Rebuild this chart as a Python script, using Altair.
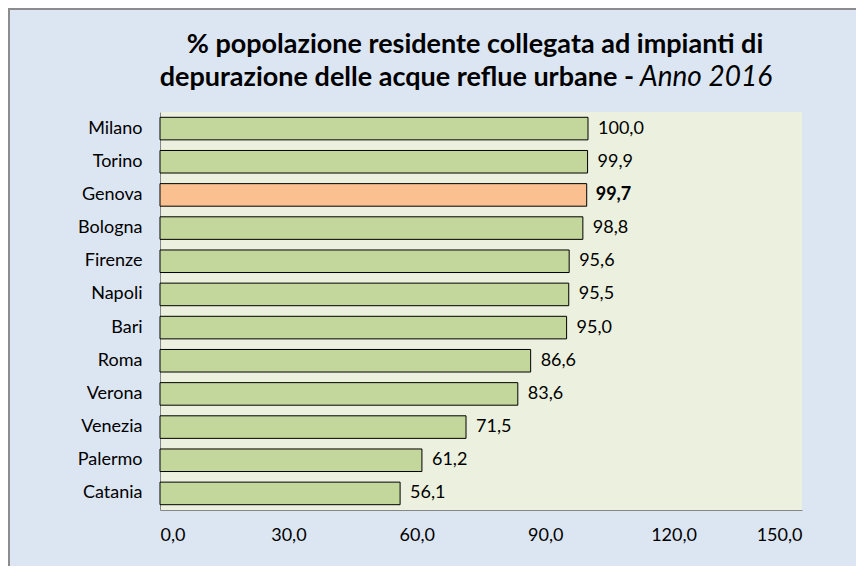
import altair as alt
import pandas as pd

cities = ["Milano", "Torino", "Genova", "Bologna", "Firenze", "Napoli",
          "Bari", "Roma", "Verona", "Venezia", "Palermo", "Catania"]
values = [100.0, 99.9, 99.7, 98.8, 95.6, 95.5, 95.0, 86.6, 83.6, 71.5, 61.2, 56.1]
highlight = "Genova"
x_ticks = [0, 30, 60, 90, 120, 150]
title_line1 = "% popolazione residente collegata ad impianti di"
title_line2_bold = "depurazione delle acque reflue urbane -"
title_line2_italic = "Anno 2016"

df = pd.DataFrame({"city": cities, "value": values})
df["label"] = [f"{v:.1f}".replace(".", ",") for v in values]

W, H = 642, 398
FONT = "Lato"
GREEN = "#C3D69B"
ORANGE = "#FAC090"
LBL = 18

y = alt.Y("city:N", sort=cities,
          scale=alt.Scale(paddingInner=0.32, paddingOuter=0.16),
          axis=alt.Axis(title=None, labelFont=FONT, labelFontSize=LBL, labelColor="black",
                        labelPadding=18, ticks=False, domainColor="#868686", domainWidth=1))
x = alt.X("value:Q", scale=alt.Scale(domain=[0, 150], nice=False),
          axis=alt.Axis(title=None, values=x_ticks,
                        labelExpr="replace(format(datum.value, '.1f'), '.', ',')",
                        labelFont=FONT, labelFontSize=LBL, labelColor="black",
                        labelPadding=16, ticks=False, grid=False,
                        domainColor="#868686", domainWidth=1))

base = alt.Chart(df)
is_hl = alt.datum.city == highlight

bars = base.mark_bar(stroke="black", strokeWidth=1).encode(
    x=x, y=y,
    color=alt.when(is_hl).then(alt.value(ORANGE)).otherwise(alt.value(GREEN)),
)

text_normal = base.transform_filter(alt.datum.city != highlight).mark_text(
    align="left", baseline="middle", dx=10, font=FONT, fontSize=LBL, color="black"
).encode(x="value:Q", y=alt.Y("city:N", sort=cities), text="label:N")

text_bold = base.transform_filter(is_hl).mark_text(
    align="left", baseline="middle", dx=9, font=FONT, fontSize=LBL, color="black",
    fontWeight="bold"
).encode(x="value:Q", y=alt.Y("city:N", sort=cities), text="label:N")

tdf = pd.DataFrame({"t1": [title_line1], "t2": [title_line2_bold], "t3": [title_line2_italic]})
title1 = alt.Chart(tdf).mark_text(
    align="center", baseline="middle", font=FONT, fontSize=27, fontWeight="bold", color="black"
).encode(text="t1:N", x=alt.value(315), y=alt.value(-67))
title2a = alt.Chart(tdf).mark_text(
    align="right", baseline="middle", font=FONT, fontSize=27, fontWeight="bold", color="black"
).encode(text="t2:N", x=alt.value(474), y=alt.value(-34))
title2b = alt.Chart(tdf).mark_text(
    align="left", baseline="middle", font=FONT, fontSize=28, fontStyle="italic", color="black"
).encode(text="t3:N", x=alt.value(480), y=alt.value(-34))

border = alt.Chart(tdf).mark_rect(fill="transparent", stroke="#8c8c8c", strokeWidth=2).encode(
    x=alt.value(-151), x2=alt.value(900), y=alt.value(-103), y2=alt.value(700)
)

chart = alt.layer(border, bars, text_normal, text_bold, title1, title2a, title2b).properties(
    width=W, height=H,
    background="#DCE6F2",
    padding={"left": 152, "top": 104, "right": 54, "bottom": 56},
    autosize=alt.AutoSizeParams(type="none"),
).configure_view(fill="#EBF1DE", strokeWidth=0)

chart.save("out.html", embed_options={"renderer": "svg", "actions": False})
